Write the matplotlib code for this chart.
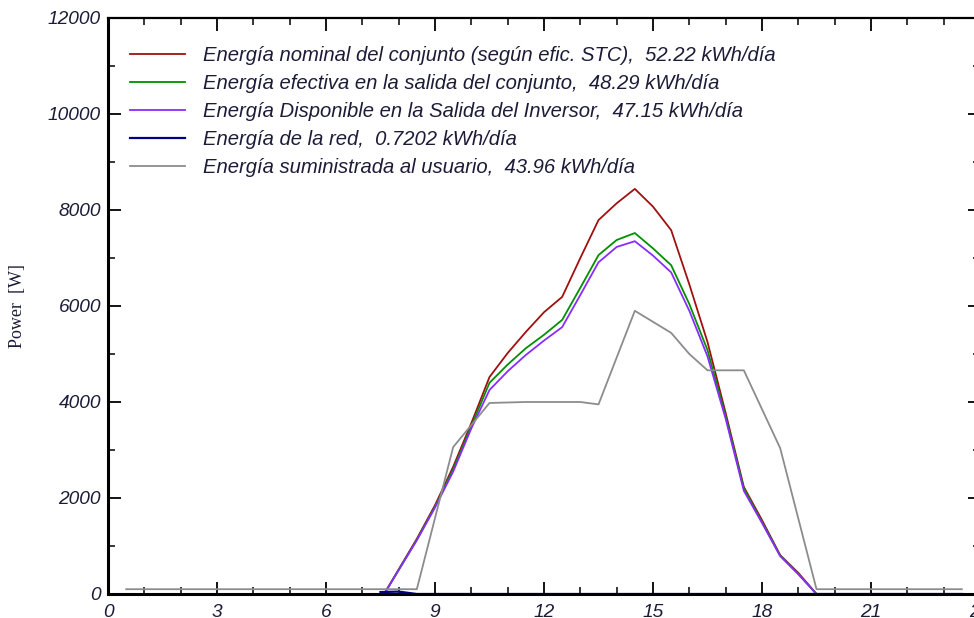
import matplotlib.pyplot as plt
from matplotlib.ticker import MultipleLocator

# hours of the day
hours_pv = [0.5, 7.6, 8.5, 9.0, 9.5, 10.0, 10.5, 11.0, 11.5, 12.0, 12.5, 13.0, 13.5,
            14.0, 14.5, 15.0, 15.5, 16.0, 16.5, 17.0, 17.5, 18.0, 18.5, 19.0, 19.5, 23.5]

nominal = [0, 0, 1150, 1850, 2650, 3560, 4520, 5020, 5460, 5870, 6190, 7000, 7790,
           8140, 8440, 8070, 7580, 6450, 5250, 3770, 2230, 1540, 810, 440, 0, 0]
efectiva = [0, 0, 1130, 1820, 2600, 3500, 4400, 4780, 5120, 5400, 5710, 6380, 7060,
            7375, 7520, 7200, 6850, 6040, 5080, 3700, 2200, 1500, 800, 420, 0, 0]
disponible = [0, 0, 1120, 1800, 2550, 3450, 4250, 4640, 4980, 5280, 5560, 6230, 6910,
              7230, 7350, 7050, 6700, 5900, 4950, 3650, 2150, 1480, 790, 410, 0, 0]

hours_red = [7.5, 8.0, 8.5, 23.5]
red = [40, 50, 0, 0]

hours_user = [0.5, 8.5, 9.5, 10.0, 10.5, 11.5, 12.5, 13.0, 13.5, 14.5, 15.5, 16.0,
              16.5, 17.5, 18.5, 19.5, 23.5]
usuario = [100, 100, 3060, 3520, 3980, 4000, 4000, 4000, 3950, 5900, 5440, 5000,
           4660, 4660, 3040, 100, 100]

labels = [
    "Energía nominal del conjunto (según efic. STC),  52.22 kWh/día",
    "Energía efectiva en la salida del conjunto,  48.29 kWh/día",
    "Energía Disponible en la Salida del Inversor,  47.15 kWh/día",
    "Energía de la red,  0.7202 kWh/día",
    "Energía suministrada al usuario,  43.96 kWh/día",
]

txt = '#1c1c38'
plt.rcParams['font.family'] = ['Liberation Sans', 'DejaVu Sans']

fig = plt.figure(figsize=(9.74, 6.18), dpi=100)
ax = fig.add_axes([108 / 974, 1 - 594 / 618, 872 / 974, 576 / 618])

ax.plot(hours_pv, nominal, color='#a01010', lw=1.3, label=labels[0])
ax.plot(hours_pv, efectiva, color='#009000', lw=1.3, label=labels[1])
ax.plot(hours_pv, disponible, color='#8a2cff', lw=1.3, label=labels[2])
ax.plot(hours_red, red, color='#000080', lw=1.6, label=labels[3])
ax.plot(hours_user, usuario, color='#8c8c8c', lw=1.3, label=labels[4])

ax.set_xlim(0, 24)
ax.set_ylim(0, 12000)
ax.xaxis.set_major_locator(MultipleLocator(3))
ax.xaxis.set_minor_locator(MultipleLocator(1))
ax.yaxis.set_major_locator(MultipleLocator(2000))
ax.yaxis.set_minor_locator(MultipleLocator(1000))

ax.tick_params(which='both', direction='in', top=True, right=True, colors='black',
               labelcolor=txt, labelsize=13.8)
ax.tick_params(which='major', length=9, width=1.3)
ax.tick_params(which='minor', length=5, width=1.1)
ax.tick_params(axis='y', pad=5)
ax.tick_params(axis='x', pad=7.5)
for lab in ax.get_xticklabels() + ax.get_yticklabels():
    lab.set_style('italic')

for side in ['left', 'bottom']:
    ax.spines[side].set_linewidth(2.2)
for side in ['top', 'right']:
    ax.spines[side].set_linewidth(1.6)

ax.set_ylabel('Power  [W]', fontsize=13, family='Liberation Serif', color=txt, labelpad=16)

leg = ax.legend(loc='upper left', bbox_to_anchor=(0.016, 0.966), frameon=False,
                prop={'style': 'italic', 'size': 14.6}, handlelength=2.7,
                handletextpad=0.9, labelspacing=0.45, borderaxespad=0)
for t in leg.get_texts():
    t.set_color(txt)

fig.savefig('out.png', dpi=100)
